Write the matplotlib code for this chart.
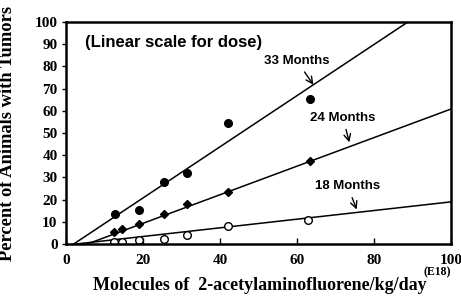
import numpy as np
import matplotlib
matplotlib.use('Agg')
import matplotlib.pyplot as plt

# dose (E18 molecules/kg/day) and percent with tumors
dose_33 = [12.7, 19, 25.5, 31.5, 42, 63.4]
pct_33 = [13.5, 15.5, 28, 32, 54.5, 65.3]
dose_24 = [12.5, 14.5, 19, 25.5, 31.5, 42, 63.5]
pct_24 = [5.5, 7, 9, 13.5, 18, 23.5, 37.5]
dose_18 = [12.5, 14.5, 19, 25.5, 31.5, 42, 63]
pct_18 = [1, 1, 2, 2.5, 4, 8, 11]

# fitted lines: (x at y=0, y at x=100)
fit_33 = (2.0, 112.9)
fit_24 = (5.5, 60.8)
fit_18 = (2.5, 19.0)

xticks = [0, 20, 40, 60, 80, 100]
yticks = [0, 10, 20, 30, 40, 50, 60, 70, 80, 90, 100]

plt.rcParams['font.family'] = ['Liberation Serif', 'DejaVu Serif']

fig = plt.figure(figsize=(4.61, 2.98), dpi=100)
ax = fig.add_axes([0.143, 0.181, 0.835, 0.745])

xs = np.array([0, 100])
for x0, y100 in [fit_33, fit_24, fit_18]:
    slope = y100 / (100 - x0)
    ax.plot(xs, slope * (xs - x0), color='black', lw=1.1)

ax.plot(dose_33, pct_33, 'o', color='black', ms=5.5)
ax.plot(dose_24, pct_24, 'D', color='black', ms=4)
ax.plot(dose_18, pct_18, 'o', mfc='white', mec='black', mew=1, ms=5.5)

ax.set_xlim(0, 100)
ax.set_ylim(0, 100)
ax.set_xticks(xticks)
ax.set_yticks(yticks)
ax.tick_params(axis='x', direction='in', length=4, width=1, pad=7, labelsize=11)
ax.tick_params(axis='y', direction='out', length=3, width=1, pad=3, labelsize=11)
for lab in ax.get_xticklabels() + ax.get_yticklabels():
    lab.set_fontweight('bold')
for sp in ax.spines.values():
    sp.set_linewidth(1.8)

sans = ['Liberation Sans', 'DejaVu Sans']
ax.text(5, 91, '(Linear scale for dose)', family=sans, fontweight='bold',
        fontsize=12, va='center')

arrow = dict(arrowstyle='->', color='black', lw=1.0, mutation_scale=12)
ax.annotate('33 Months', xy=(64.7, 70.7), xytext=(60, 82.5), family=sans,
            fontweight='bold', fontsize=9.5, ha='center', va='center', arrowprops=arrow)
ax.annotate('24 Months', xy=(73.8, 44.6), xytext=(72, 56.8), family=sans,
            fontweight='bold', fontsize=9.5, ha='center', va='center', arrowprops=arrow)
ax.annotate('18 Months', xy=(75.8, 14.4), xytext=(73.2, 26), family=sans,
            fontweight='bold', fontsize=9.5, ha='center', va='center', arrowprops=arrow)

ax.set_xlabel('Molecules of  2-acetylaminofluorene/kg/day', fontsize=13,
              fontweight='bold')
ax.xaxis.set_label_coords(0.504, -0.147)
ax.set_ylabel('Percent of Animals with Tumors', fontsize=13.3, fontweight='bold')
ax.yaxis.set_label_coords(-0.13, 0.5)
fig.text(437 / 461, 1 - 272 / 298, '(E18)', fontsize=8.5,
         fontweight='bold', ha='center', va='center')

fig.savefig('out.png', dpi=100)
